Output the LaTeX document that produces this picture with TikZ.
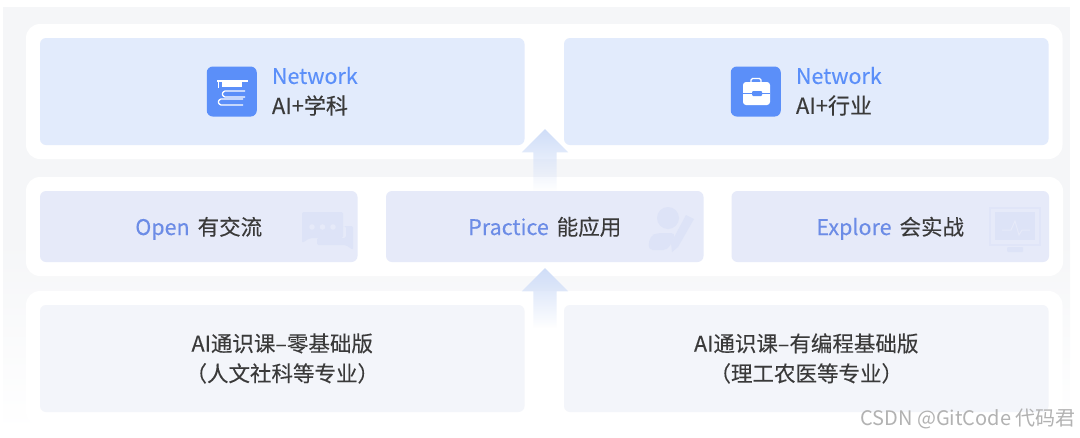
\documentclass[tikz,border=0pt]{standalone}
\usepackage{xcolor}
\usepackage{fontspec}
\setmainfont[FakeBold=0.2]{Noto Sans CJK SC}
\newfontfamily\markfont{Noto Sans CJK SC}
\usetikzlibrary{shapes.arrows, positioning, fit, backgrounds, calc, fadings}
\definecolor{netfill}{HTML}{E2EBFC}
\definecolor{midfill}{HTML}{E6EAF9}
\definecolor{basefill}{HTML}{F3F5FA}
\definecolor{pagegrey}{HTML}{F5F6F8}
\definecolor{tileblue}{HTML}{5B8FF9}
\definecolor{midblue}{HTML}{6C8CE6}
\definecolor{inkdark}{HTML}{3A3A3A}
\definecolor{ghost}{HTML}{DDE3F7}
\definecolor{arrowblue}{HTML}{CFDDF8}
\tikzfading[name=arrowfade, top color=transparent!0, middle color=transparent!15, bottom color=transparent!100]

\begin{document}
\begin{tikzpicture}[
    x=1pt, y=-1pt,
    box/.style={rounded corners=6pt, inner sep=0pt, outer sep=0pt, align=center},
    netbox/.style={box, fill=netfill, minimum width=484.5pt, minimum height=107pt},
    midbox/.style={box, fill=midfill, minimum width=317.5pt, minimum height=71pt, text=inkdark, text height=18pt, text depth=1pt, font=\fontsize{21.5}{26}\selectfont},
    basebox/.style={box, fill=basefill, minimum width=484.5pt, minimum height=107pt, text=inkdark, font=\fontsize{21.5}{30}\selectfont},
    panel/.style={fill=white, rounded corners=14pt, inner sep=14pt, outer sep=0pt},
    icontile/.style={fill=tileblue, rounded corners=6pt, minimum size=50pt, inner sep=0pt, outer sep=0pt},
    nettitle/.style={text=tileblue, font=\fontsize{21.5}{26}\selectfont, inner sep=0pt, anchor=west},
    netsub/.style={text=inkdark, font=\fontsize{22}{26}\selectfont, inner sep=0pt, anchor=west},
    uparrow/.style={single arrow, shape border rotate=90, fill=arrowblue, draw=none, inner sep=11.5pt, outer sep=0pt,
        minimum width=46pt, single arrow head extend=11.5pt, single arrow tip angle=90, path fading=arrowfade},
    iconline/.style={draw=white, line width=1.3pt},
    ghostfill/.style={fill=ghost, draw=none},
]
    \useasboundingbox (0,0) rectangle (1080,437);

    % Top row
    \node[netbox] (netsubj) at (282.25,91.5) {};
    \node[netbox, right=39.5pt of netsubj] (netind) {};

    % Middle row
    \node[midbox, below=46pt of netsubj.south west, anchor=north west] (opennode) {\textcolor{midblue}{Open}\hspace{8pt}有交流};
    \node[midbox, right=28.5pt of opennode] (practice) {\textcolor{midblue}{Practice}\hspace{8pt}能应用};
    \node[midbox, right=28pt of practice] (explore) {\textcolor{midblue}{Explore}\hspace{8pt}会实战};

    % Bottom row
    \node[basebox, below=43pt of opennode.south west, anchor=north west] (basenon) {AI通识课–零基础版\\（人文社科等专业）};
    \node[basebox, right=39.5pt of basenon] (baseprog) {AI通识课–有编程基础版\\（理工农医等专业）};

    % Page, panels and arrows behind the boxes
    \begin{scope}[on background layer]
        \fill[pagegrey] (3,7) rectangle (1070,240);
        \shade[top color=pagegrey, bottom color=white] (3,240) rectangle (1070,432);
        \node[panel, fit=(netsubj)(netind)] (toppanel) {};
        \node[panel, fit=(opennode)(explore)] (midpanel) {};
        \node[panel, fit=(basenon)(baseprog)] (basepanel) {};
        \node[uparrow, minimum height=62pt] (arrowtop) at (545,166) {};
        \node[uparrow, minimum height=60pt] (arrowbase) at (545,304) {};
    \end{scope}

    % Icons and labels of the top row
    \node[icontile, xshift=-50.5pt] (iconsubj) at (netsubj) {};
    \node[icontile, xshift=-50.5pt] (iconind) at (netind) {};
    \node[nettitle, right=15pt of iconsubj, yshift=16pt] (titlesubj) {Network};
    \node[netsub, right=15pt of iconsubj, yshift=-14pt] (subsubj) {AI+学科};
    \node[nettitle, right=15pt of iconind, yshift=16pt] (titleind) {Network};
    \node[netsub, right=15pt of iconind, yshift=-14pt] (subind) {AI+行业};

    % Books and cap
    \draw[iconline] (217,81) -- (248,81);
    \fill[white] (222,81) -- (242,81) -- (242,87) -- (222,87) -- cycle;
    \draw[white, line width=0.9pt] (218,81) -- (218,88);
    \draw[iconline, rounded corners=1pt] (245,91) -- (224,91) -- (222,94) -- (224,97) -- (245,97);
    \draw[iconline, rounded corners=1pt] (243,99) -- (220,99) -- (218,102) -- (220,105) -- (243,105);

    % Briefcase
    \draw[white, line width=1.2pt, rounded corners=1.5pt] (751,83) -- (751,78.5) -- (761,78.5) -- (761,83);
    \fill[white, rounded corners=3pt] (743,82) rectangle (770,105);
    \draw[tileblue, line width=1pt] (743,93) -- (770,93);
    \fill[tileblue, rounded corners=1pt] (752,91) rectangle (762,96);

    % Faint chat
    \fill[ghostfill, rounded corners=2pt] (325,226) -- (353,226) -- (353,250) -- (346,245) -- (317,245) -- (317,238) -- (346,238) -- (346,226) -- cycle;
    \fill[ghostfill, rounded corners=2pt] (302,212) -- (343,212) -- (343,238) -- (310,238) -- (302,243) -- cycle;
    \foreach \dotx in {312,322.5,333} {
        \fill[midfill] (\dotx,227) circle (2.8pt);
    }

    % Faint person and pen
    \fill[ghostfill] (668,218) circle (11pt);
    \fill[ghostfill, rounded corners=5pt] (648,250) -- (650,236) -- (657,233) -- (676,233) -- (668,250) -- cycle;
    \fill[ghostfill] (686,215) -- (694,219) -- (678,247) -- (672,252) -- (671,243) -- cycle;

    % Faint monitor
    \draw[ghost!70!midfill, line width=1.2pt] (990,208) rectangle (1040,245);
    \fill[ghostfill] (995,212) rectangle (1035,240);
    \draw[midfill, line width=1pt] (1002,230) -- (1011,230) -- (1015,221) -- (1019,235) -- (1022,230) -- (1030,230);
    \fill[ghostfill, rounded corners=1pt] (1007,247) rectangle (1023,252);

    % Watermark
    \node[text=black!30, font=\markfont\fontsize{20}{22}\selectfont, inner sep=0pt, anchor=east] (watermark) at (1076,419) {CSDN @GitCode 代码君};
\end{tikzpicture}
\end{document}
